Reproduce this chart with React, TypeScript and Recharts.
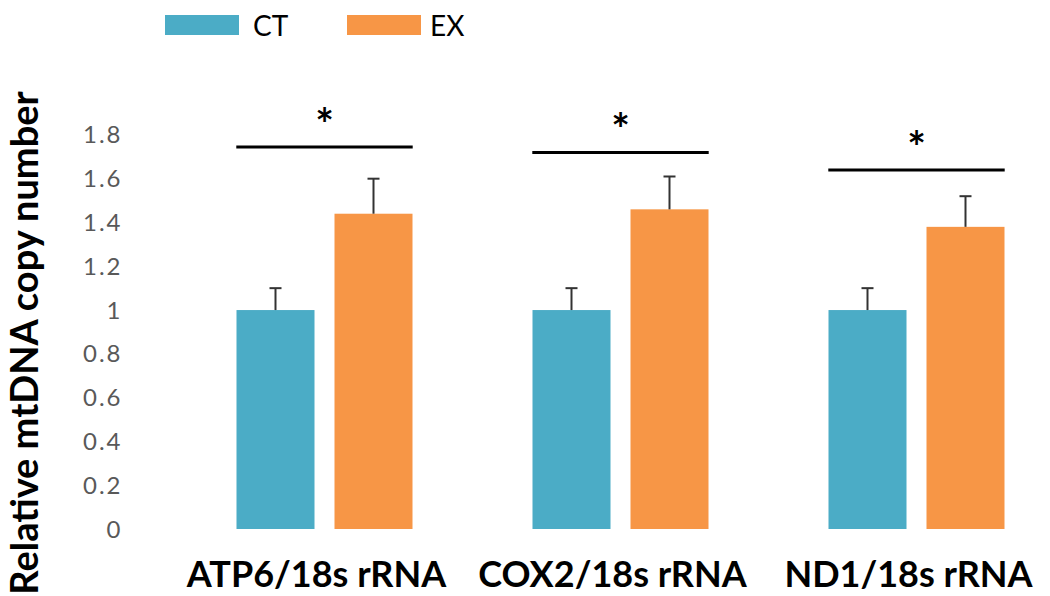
import { Bar, BarChart, ReferenceLine, XAxis, YAxis } from 'recharts'

const categories = ['ATP6/18s rRNA', 'COX2/18s rRNA', 'ND1/18s rRNA']
const seriesNames = ['CT', 'EX']
const ctMeans = [1, 1, 1]
const ctErrors = [0.1, 0.1, 0.1]
const exMeans = [1.44, 1.46, 1.38]
const exErrors = [0.16, 0.15, 0.14]
const sigLevels = [1.745, 1.72, 1.64]
const yTicks = [0, 0.2, 0.4, 0.6, 0.8, 1, 1.2, 1.4, 1.6, 1.8]

const CT_COLOR = '#4BACC6'
const EX_COLOR = '#F79646'
const FONT = 'Lato, "Open Sans", sans-serif'

const data = categories.map((name, i) => ({
  pos: i,
  name,
  ct: ctMeans[i],
  ctErr: ctErrors[i],
  ex: exMeans[i],
  exErr: exErrors[i],
}))

// bar + upward-only error whisker, scaled from the bar's own pixel height
const barWithError = (errKey: string) => (props: any) => {
  const { x, y, width, height, fill, value, payload } = props
  const v = Array.isArray(value) ? value[1] - value[0] : value
  const pxPerUnit = v ? height / v : 0
  const errPx = (payload[errKey] || 0) * pxPerUnit
  const cx = x + width / 2
  return (
    <g>
      <rect x={x} y={y} width={width} height={height} fill={fill} />
      <line x1={cx} y1={y} x2={cx} y2={y - errPx} stroke="#333" strokeWidth={2} />
      <line x1={cx - 6} y1={y - errPx} x2={cx + 6} y2={y - errPx} stroke="#333" strokeWidth={2} />
    </g>
  )
}

const YLabel = () => (
  <text
    x={0}
    y={0}
    transform="translate(23, 343) rotate(-90)"
    textAnchor="middle"
    dominantBaseline="central"
    fontFamily={FONT}
    fontWeight={700}
    fontSize={38}
    fill="#000"
  >
    Relative mtDNA copy number
  </text>
)

export default function App() {
  const colors = [CT_COLOR, EX_COLOR]
  return (
    <div style={{ position: 'absolute', left: 0, top: 0, width: 1050, height: 596, overflow: 'hidden', background: '#fff' }}>
      <div style={{ position: 'absolute', left: 0, top: 0, fontFamily: FONT, fontSize: 28, color: '#000' }}>
        {seriesNames.map((s, i) => (
          <div key={s} style={{ position: 'absolute', left: i === 0 ? 165 : 347, top: 15, display: 'flex', alignItems: 'center', whiteSpace: 'nowrap' }}>
            <div style={{ width: 74, height: 20, background: colors[i] }} />
            <span style={{ marginLeft: i === 0 ? 14 : 9, lineHeight: '20px' }}>{s}</span>
          </div>
        ))}
      </div>
      <BarChart
        width={1100}
        height={596}
        data={data}
        margin={{ top: 113, right: 35.5, bottom: 0, left: 116.5 }}
        barGap={20}
        barSize={78}
      >
        <XAxis
          type="number"
          dataKey="pos"
          domain={[-0.5, 2.5]}
          ticks={[0, 1, 2]}
          tickFormatter={(i: number) => categories[i] ?? ''}
          axisLine={false}
          tickLine={false}
          tickSize={0}
          tickMargin={32}
          height={67}
          interval={0}
          tick={{ fill: '#000', fontFamily: FONT, fontWeight: 700, fontSize: 36, dx: -8 }}
        />
        <YAxis
          domain={[0, 1.9]}
          ticks={yTicks}
          allowDataOverflow
          axisLine={false}
          tickLine={false}
          tickSize={0}
          tickMargin={54}
          width={60}
          interval={0}
          tick={{ fill: '#595959', fontFamily: FONT, fontSize: 24, letterSpacing: 2 }}
          label={<YLabel />}
        />
        {sigLevels.map((lvl, i) => (
          <ReferenceLine
            key={i}
            segment={[{ x: i - 0.298, y: lvl }, { x: i + 0.298, y: lvl }]}
            stroke="#000"
            strokeWidth={3}
            ifOverflow="visible"
            label={{ value: '*', position: 'top', offset: 7, fill: '#000', fontSize: 44, fontWeight: 700, fontFamily: FONT }}
          />
        ))}
        <Bar dataKey="ct" name={seriesNames[0]} fill={CT_COLOR} isAnimationActive={false} shape={barWithError('ctErr')} />
        <Bar dataKey="ex" name={seriesNames[1]} fill={EX_COLOR} isAnimationActive={false} shape={barWithError('exErr')} />
      </BarChart>
    </div>
  )
}
